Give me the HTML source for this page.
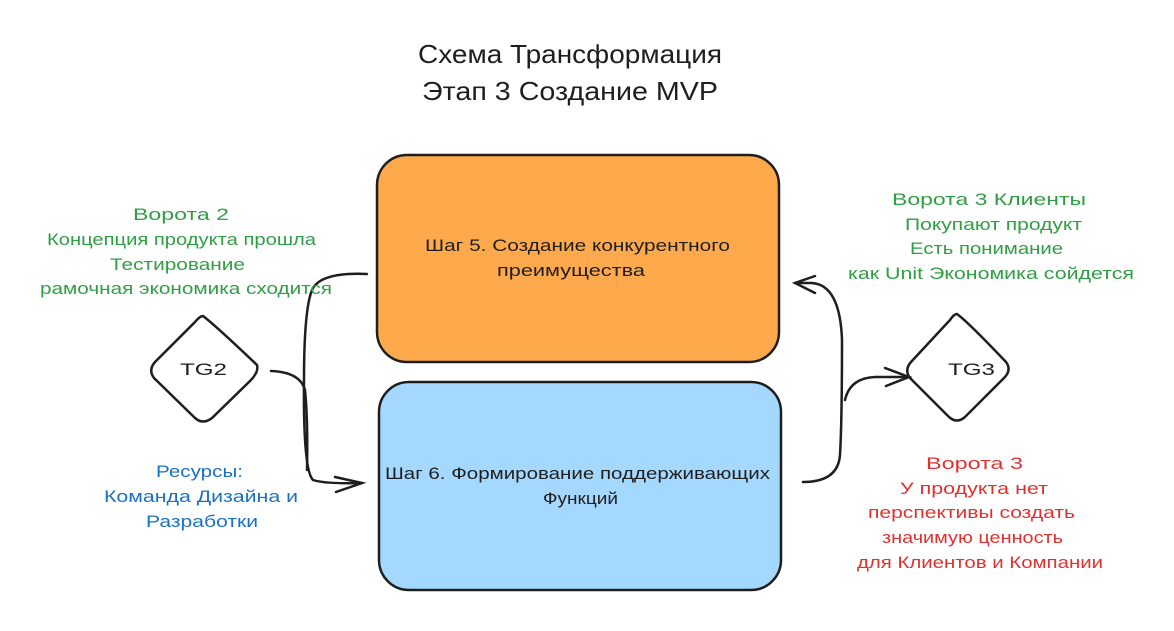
<!DOCTYPE html>
<html><head><meta charset="utf-8"><style>
html,body{margin:0;padding:0;background:#fff}
svg{display:block}
text{font-family:"Liberation Sans",sans-serif}
</style></head><body>
<svg width="1174" height="631" viewBox="0 0 1174 631" xmlns="http://www.w3.org/2000/svg">
<g font-size="26" fill="#1e1e1e">
<text x="418" y="63" textLength="304" lengthAdjust="spacingAndGlyphs">Схема Трансформация</text>
<text x="422" y="100" textLength="296" lengthAdjust="spacingAndGlyphs">Этап 3 Создание MVP</text>
</g>
<rect x="377" y="155" width="402" height="207" rx="30" fill="#ffa94d" stroke="#1e1e1e" stroke-width="2.5"/>
<rect x="379" y="382" width="402" height="208" rx="30" fill="#a5d8ff" stroke="#1e1e1e" stroke-width="2.5"/>
<g font-size="17" fill="#1e1e1e">
<text x="425" y="251" textLength="305" lengthAdjust="spacingAndGlyphs">Шаг 5. Создание конкурентного</text>
<text x="497" y="276" textLength="148" lengthAdjust="spacingAndGlyphs">преимущества</text>
<text x="385" y="479" textLength="385" lengthAdjust="spacingAndGlyphs">Шаг 6. Формирование поддерживающих</text>
<text x="543" y="504" textLength="75" lengthAdjust="spacingAndGlyphs">Функций</text>
</g>
<path d="M203 316 Q215 325 257 365 Q259 372 250 381 L212 418 Q203 425 195 418 L154 378 Q148 370 155 362 L195 322 Q200 316 203 316Z" fill="#fff" stroke="#1e1e1e" stroke-width="2.5"/>
<path d="M957 314 Q968 322 1006 362 Q1012 370 1004 378 L965 417 Q957 424 949 417 L910 378 Q904 370 911 362 L950 320 Q954 314 957 314Z" fill="#fff" stroke="#1e1e1e" stroke-width="2.5"/>
<g font-size="17" fill="#1e1e1e">
<text x="180" y="375" textLength="47" lengthAdjust="spacingAndGlyphs">TG2</text>
<text x="948" y="375" textLength="47" lengthAdjust="spacingAndGlyphs">TG3</text>
</g>
<g fill="none" stroke="#1e1e1e" stroke-width="2.5" stroke-linecap="round">
<path d="M367 274 Q320 272 312 290 Q304 310 304 380 Q303 470 313 480 Q325 484 362 483"/>
<path d="M271 371 Q300 372 305 390 Q308 420 307 470"/>
<path d="M335 477 L362 483 L336 492"/>
<path d="M803 482 Q838 482 840 455 Q842 420 842 340 Q840 285 812 283 L795 283"/>
<path d="M815 276 L795 283 L815 293"/>
<path d="M845 400 Q850 378 875 377 L909 377"/>
<path d="M885 368 L909 377 L886 386"/>
</g>
<g font-size="17" fill="#2f9e44">
<text x="133" y="220" textLength="96" lengthAdjust="spacingAndGlyphs">Ворота 2</text>
<text x="47" y="245" textLength="269" lengthAdjust="spacingAndGlyphs">Концепция продукта прошла</text>
<text x="110" y="270" textLength="135" lengthAdjust="spacingAndGlyphs">Тестирование</text>
<text x="40" y="294" textLength="292" lengthAdjust="spacingAndGlyphs">рамочная экономика сходится</text>
<text x="892" y="205" textLength="194" lengthAdjust="spacingAndGlyphs">Ворота 3 Клиенты</text>
<text x="905" y="230" textLength="177" lengthAdjust="spacingAndGlyphs">Покупают продукт</text>
<text x="910" y="254" textLength="153" lengthAdjust="spacingAndGlyphs">Есть понимание</text>
<text x="848" y="279" textLength="286" lengthAdjust="spacingAndGlyphs">как Unit Экономика сойдется</text>
</g>
<g font-size="17" fill="#1971c2">
<text x="156" y="477" textLength="87" lengthAdjust="spacingAndGlyphs">Ресурсы:</text>
<text x="104" y="502" textLength="194" lengthAdjust="spacingAndGlyphs">Команда Дизайна и</text>
<text x="146" y="527" textLength="112" lengthAdjust="spacingAndGlyphs">Разработки</text>
</g>
<g font-size="17" fill="#e03131">
<text x="926" y="469" textLength="97" lengthAdjust="spacingAndGlyphs">Ворота 3</text>
<text x="900" y="494" textLength="148" lengthAdjust="spacingAndGlyphs">У продукта нет</text>
<text x="868" y="518" textLength="207" lengthAdjust="spacingAndGlyphs">перспективы создать</text>
<text x="882" y="543" textLength="181" lengthAdjust="spacingAndGlyphs">значимую ценность</text>
<text x="857" y="568" textLength="246" lengthAdjust="spacingAndGlyphs">для Клиентов и Компании</text>
</g>
</svg>
</body></html>
